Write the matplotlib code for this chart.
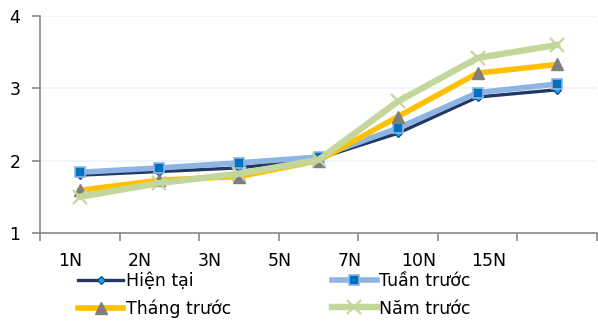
import matplotlib.pyplot as plt
import matplotlib.transforms as mtransforms
import numpy as np

# kỳ hạn
tenors = ['1N', '2N', '3N', '5N', '7N', '10N', '15N']

hien_tai = [1.80, 1.85, 1.90, 2.03, 2.38, 2.88, 2.98]
tuan_truoc = [1.84, 1.90, 1.97, 2.05, 2.45, 2.94, 3.06]
thang_truoc = [1.59, 1.73, 1.78, 2.00, 2.61, 3.21, 3.33]
nam_truoc = [1.50, 1.69, 1.82, 2.01, 2.82, 3.42, 3.60]

plt.rcParams['font.family'] = ['DejaVu Sans']

fig = plt.figure(figsize=(5.98, 3.24), dpi=100)
ax = fig.add_axes([40 / 598, 1 - 233 / 324, 557 / 598, 217 / 324])

x = np.arange(len(tenors))

l1, = ax.plot(x, hien_tai, color='#1f3864', lw=2.4, marker='D', ms=4.5,
              mfc='#00b0f0', mec='#1f3864', mew=0.8, label='Hiện tại', zorder=3)
l2, = ax.plot(x, tuan_truoc, color='#8eb4e3', lw=4.0, marker='s', ms=7,
              mfc='#0070c0', mec='#8eb4e3', mew=1.2, label='Tuần trước', zorder=4)
l3, = ax.plot(x, thang_truoc, color='#ffc000', lw=4.0, marker='^', ms=8.5,
              mfc='#7f7f7f', mec='#7f7f7f', label='Tháng trước', zorder=5)
l4, = ax.plot(x, nam_truoc, color='#c4d79b', lw=4.6, marker='x', ms=10,
              mec='#c4d79b', mew=1.6, label='Năm trước', zorder=6)

ax.set_xlim(-0.5, len(tenors) - 0.5)
ax.set_ylim(1, 4)
ax.set_yticks([1, 2, 3, 4])
ax.set_xticks(np.arange(-0.5, len(tenors), 1))
ax.set_xticklabels([])
ax.tick_params(axis='x', length=6, width=1.2, color='#898989', direction='out')
ax.tick_params(axis='y', length=6, width=1.2, color='#898989', direction='out',
               labelsize=12.5, pad=8)

# nhãn kỳ hạn đặt dồn sang trái, cách đều nhau
label_tf = mtransforms.blended_transform_factory(fig.transFigure, ax.transAxes)
for i, t in enumerate(tenors):
    ax.text((70 + 69.8 * i) / 598, -28 / 217, t, transform=label_tf,
            ha='center', va='center', fontsize=12.5)

ax.grid(axis='y', color='#eef3fa', lw=1.2, zorder=0)
for side in ['top', 'right']:
    ax.spines[side].set_visible(False)
for side in ['left', 'bottom']:
    ax.spines[side].set_color('#898989')
    ax.spines[side].set_linewidth(1.2)

fig.legend([l1, l3, l2, l4], ['Hiện tại', 'Tháng trước', 'Tuần trước', 'Năm trước'],
           ncol=2, loc='upper left', bbox_to_anchor=(78 / 598, 1 - 272 / 324),
           frameon=False, fontsize=12.5, handlelength=2.6, handletextpad=0.15,
           columnspacing=5.8, labelspacing=0.55, borderpad=0, borderaxespad=0)

fig.savefig('out.png', dpi=100)
